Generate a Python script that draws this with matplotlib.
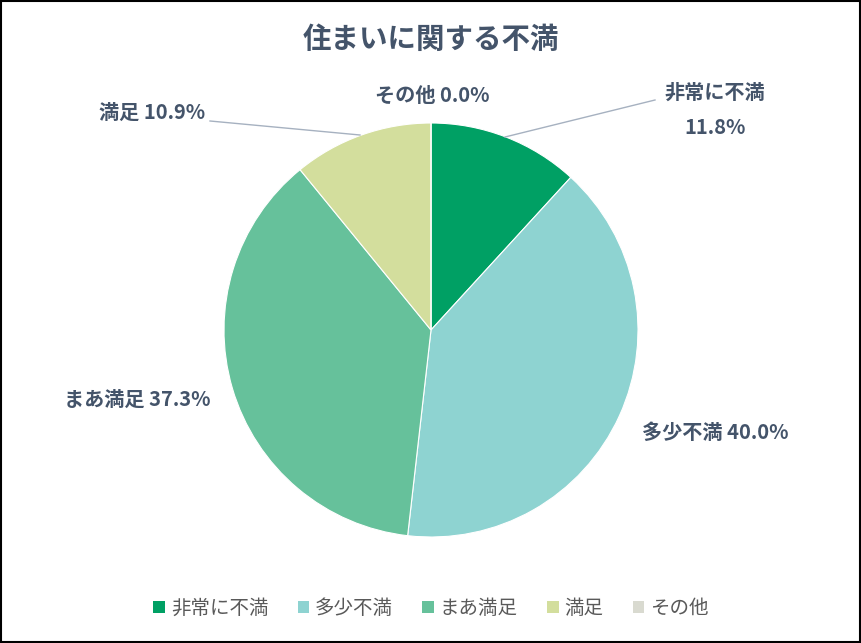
import matplotlib.pyplot as plt
from matplotlib.patches import Patch, Rectangle

plt.rcParams['font.family'] = ['Noto Sans CJK JP', 'DejaVu Sans']

categories = ['非常に不満', '多少不満', 'まあ満足', '満足', 'その他']
values = [11.8, 40.0, 37.3, 10.9, 0.0]
colors = ['#00A064', '#8ED3D1', '#66C19B', '#D3DE9D', '#D9DAD0']
title = '住まいに関する不満'

text_color = '#44546A'

fig = plt.figure(figsize=(8.62, 6.43), dpi=100)
ax = fig.add_axes([0, 0, 1, 1])
ax.axis('off')

# pie in pixel-like coordinates (y up)
ax.pie(values, colors=colors, startangle=90, counterclock=False,
       center=(431, 313), radius=207,
       wedgeprops=dict(edgecolor='white', linewidth=0.8))
ax.set_xlim(0, 862)
ax.set_ylim(0, 643)
ax.set_aspect('auto')

ax.text(431, 603, title, ha='center', va='center', fontsize=20.5,
        color=text_color, fontweight='bold')

lbl = dict(fontsize=14.5, fontweight='bold', color=text_color, va='center')
ax.text(715, 551, categories[0], ha='center', **lbl)
ax.text(715, 515, f'{values[0]:.1f}%', ha='center', **lbl)
ax.plot([505, 655], [506, 543], color='#A6B1C0', lw=1)
ax.text(715, 211, f'{categories[1]} {values[1]:.1f}%', ha='center', **lbl)
ax.text(137, 244, f'{categories[2]} {values[2]:.1f}%', ha='center', **lbl)
ax.text(152, 531, f'{categories[3]} {values[3]:.1f}%', ha='center', **lbl)
ax.plot([210, 360], [522, 508], color='#A6B1C0', lw=1)
ax.text(432, 548, f'{categories[4]} {values[4]:.1f}%', ha='center', **lbl)

handles = [Patch(facecolor=c, edgecolor='none') for c in colors]
leg = fig.legend(handles, categories, loc='center', bbox_to_anchor=(0.5, 0.054),
                 ncol=5, frameon=False, fontsize=14, handlelength=0.6,
                 handleheight=0.6, handletextpad=0.3, columnspacing=1.5)
for t in leg.get_texts():
    t.set_color('#595959')

fig.patches.append(Rectangle((0.001, 0.001), 0.997, 0.997, transform=fig.transFigure,
                             fill=False, edgecolor='black', lw=1.5))

fig.savefig('out.png', dpi=100)
